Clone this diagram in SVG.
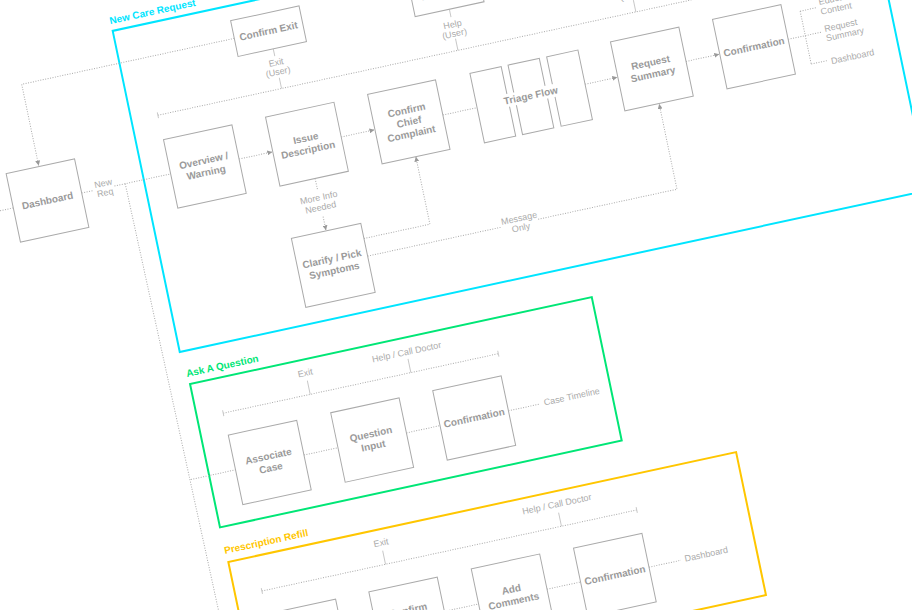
<svg xmlns="http://www.w3.org/2000/svg" width="912" height="610" viewBox="0 0 912 610">
<defs>
<marker id="arr" viewBox="0 0 6 6" refX="6" refY="3" markerWidth="5" markerHeight="5" orient="auto" markerUnits="userSpaceOnUse">
<path d="M0,0 L6,3 L0,6 z" fill="#999"/>
</marker>
<style>
.node rect{fill:#fff;stroke:#aaa;stroke-width:1}
.node rect.bg{stroke:none;fill:#fff}
.node text{font-family:"Liberation Sans",Arial,sans-serif;font-weight:bold;font-size:10px;fill:#9a9a9a;text-anchor:middle}
.c{fill:none;stroke:#aaa;stroke-width:1;stroke-dasharray:1 1.5}
.s{fill:none;stroke:#c8c8c8;stroke-width:1}
.lbl{font-family:"Liberation Sans",Arial,sans-serif;font-size:9px;fill:#aaa;text-anchor:middle}
.lbl.l{text-anchor:start}
.frame{fill:none;stroke-width:2}
.ft{font-family:"Liberation Sans",Arial,sans-serif;font-weight:bold;font-size:10px}
</style>
</defs>
<rect width="912" height="610" fill="#fff"/>
<g transform="matrix(0.9774,-0.2113,0.2045,0.9789,0,0)">

<!-- frames -->
<g id="frame-new-care">
<rect class="frame" x="104" y="54" width="766" height="328" stroke="#00e5ff"/>
<text class="ft" x="103" y="47" fill="#00e5ff">New Care Request</text>
</g>
<g id="frame-ask">
<rect class="frame" x="107.5" y="415.5" width="411" height="146.5" stroke="#00e676"/>
<text class="ft" x="106" y="408" fill="#00e676">Ask A Question</text>
</g>
<g id="frame-refill">
<rect class="frame" x="108.6" y="597.5" width="519.5" height="146" stroke="#ffc600"/>
<text class="ft" x="107" y="589" fill="#ffc600">Prescription Refill</text>
</g>

<!-- connectors -->
<g id="connectors">
<path class="c" d="M221.5,87 H4 V170" marker-end="url(#arr)"/>
<path class="c" d="M-29.5,206 H-90"/>
<path class="c" d="M40.5,206 H53"/>
<path class="c" d="M74,206 H131.5"/>
<path class="c" d="M85,206 L90,740"/>
<path class="c" d="M88.8,509 H134.5"/>
<path class="c" d="M90,691.5 H136"/>
<path class="c" d="M201.5,206 H235.5" marker-end="url(#arr)"/>
<path class="c" d="M306,206 H340" marker-end="url(#arr)"/>
<path class="c" d="M410,206 H445"/>
<path class="c" d="M555.5,206 H588.5" marker-end="url(#arr)"/>
<path class="c" d="M659,205 H693" marker-end="url(#arr)"/>
<path class="c" d="M763.5,205 H781"/>
<path class="c" d="M781,180 V234"/>
<path class="c" d="M781,180 H797"/>
<path class="c" d="M781,205 H797"/>
<path class="c" d="M781,234 H797"/>
<path class="s" d="M257.5,105.5 V113"/>
<path class="s" d="M257.5,135 V146"/>
<path class="s" d="M438,104 V112"/>
<path class="s" d="M438,134 V146"/>
<path class="s" d="M620,40 V112"/>
<path class="s" d="M620,134 V146"/>
<path class="c" d="M131,146 H780"/>
<path class="s" d="M131,143 V149"/>
<path class="c" d="M272,241 V253"/>
<path class="c" d="M272,280 V294" marker-end="url(#arr)"/>
<path class="c" d="M307.5,310 H375 V241" marker-end="url(#arr)"/>
<path class="c" d="M307.5,328 H445"/>
<path class="c" d="M482,328 H624 V241" marker-end="url(#arr)"/>
<path class="c" d="M204.5,509 H239.3"/>
<path class="c" d="M309.3,509 H343.7"/>
<path class="c" d="M413.7,509 H446"/>
<path class="c" d="M134,451 H415.5"/>
<path class="s" d="M134,448 V454 M415.5,448 V454"/>
<path class="s" d="M223,437 V451 M326,437 V451"/>
<path class="c" d="M206,691.5 H240"/>
<path class="c" d="M310,691.5 H345"/>
<path class="c" d="M415,691.5 H449.3"/>
<path class="c" d="M519.3,691.5 H552"/>
<path class="c" d="M135.5,633 H519"/>
<path class="s" d="M135.5,630 V636 M519,630 V636"/>
<path class="s" d="M262,619 V633 M442,619 V633"/>
</g>

<!-- connector labels -->
<g id="labels">
<text class="lbl" x="63.5" y="204">New</text>
<text class="lbl" x="63.5" y="213.5">Req</text>
<text class="lbl" x="257.5" y="122.5">Exit</text>
<text class="lbl" x="257.5" y="132">(User)</text>
<text class="lbl" x="438" y="122.5">Help</text>
<text class="lbl" x="438" y="132">(User)</text>
<text class="lbl" x="620" y="132">(User)</text>
<text class="lbl" x="271.5" y="263.5">More Info</text>
<text class="lbl" x="271.5" y="273.5">Needed</text>
<text class="lbl" x="463.5" y="326">Message</text>
<text class="lbl" x="463.5" y="335.5">Only</text>
<text class="lbl l" x="801" y="178">Education</text>
<text class="lbl l" x="801" y="188">Content</text>
<text class="lbl l" x="801" y="205.5">Request</text>
<text class="lbl l" x="801" y="215">Summary</text>
<text class="lbl l" x="801" y="238.5">Dashboard</text>
<text class="lbl" x="222.5" y="432">Exit</text>
<text class="lbl" x="326" y="433">Help / Call Doctor</text>
<text class="lbl l" x="450" y="511.5">Case Timeline</text>
<text class="lbl" x="262" y="614">Exit</text>
<text class="lbl" x="442" y="613.5">Help / Call Doctor</text>
<text class="lbl l" x="556" y="694">Dashboard</text>
</g>

<!-- nodes -->
<g id="dashboard" class="node"><rect x="-29.5" y="171" width="70" height="70"/><text x="5.5" y="209.5">Dashboard</text></g>
<g id="confirm-exit" class="node"><rect x="221.5" y="69" width="70" height="36.5"/><text x="256.5" y="90.5">Confirm Exit</text></g>
<g id="call-doctor" class="node"><rect x="403" y="67.5" width="70.5" height="36.5"/><text x="438" y="89.5">Call Doctor</text></g>
<g id="overview" class="node"><rect x="131.5" y="171" width="70" height="70"/><text x="166.5" y="203.5">Overview /</text><text x="166.5" y="215.5">Warning</text></g>
<g id="issue" class="node"><rect x="236" y="170.5" width="70" height="70.5"/><text x="271" y="203">Issue</text><text x="271" y="215">Description</text></g>
<g id="confirm-chief" class="node"><rect x="340.5" y="170" width="69.5" height="71"/><text x="375.5" y="197">Confirm</text><text x="375.5" y="209">Chief</text><text x="375.5" y="221">Complaint</text></g>
<g id="triage" class="node"><rect x="445" y="171" width="32" height="71"/><rect x="484" y="171" width="32" height="71"/><rect x="523.5" y="171" width="32" height="71"/><rect class="bg" x="472" y="199" width="56" height="13"/><text x="500" y="209">Triage Flow</text></g>
<g id="request-summary" class="node"><rect x="589" y="170" width="70" height="70.5"/><text x="624" y="202">Request</text><text x="624" y="214">Summary</text></g>
<g id="confirmation" class="node"><rect x="693.5" y="169.5" width="70" height="71"/><text x="728.5" y="208.5">Confirmation</text></g>
<g id="clarify" class="node"><rect x="236.5" y="294.5" width="71" height="70.5"/><text x="272" y="326.5">Clarify / Pick</text><text x="272" y="338.5">Symptoms</text></g>

<g id="associate-case" class="node"><rect x="134.5" y="473.5" width="70" height="71"/><text x="169.5" y="506">Associate</text><text x="169.5" y="518">Case</text></g>
<g id="question-input" class="node"><rect x="239.3" y="473.3" width="70" height="71"/><text x="274.3" y="506">Question</text><text x="274.3" y="518">Input</text></g>
<g id="aaq-confirmation" class="node"><rect x="343.7" y="473.3" width="70" height="71"/><text x="378.7" y="512">Confirmation</text></g>

<g id="rx-node1" class="node"><rect x="136" y="656.5" width="70" height="70"/></g>
<g id="rx-confirm" class="node"><rect x="240" y="656.5" width="70" height="70"/><text x="275" y="686">Confirm</text><text x="275" y="698">Medication</text></g>
<g id="add-comments" class="node"><rect x="345" y="655.5" width="70" height="70.5"/><text x="380" y="687.5">Add</text><text x="380" y="699.5">Comments</text></g>
<g id="rx-confirmation" class="node"><rect x="449.3" y="657" width="70" height="70"/><text x="484.3" y="695.5">Confirmation</text></g>
</g>
</svg>
